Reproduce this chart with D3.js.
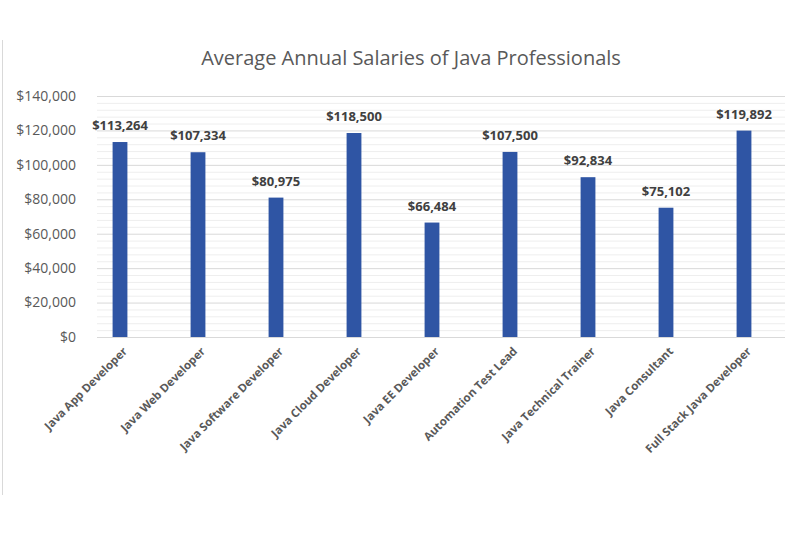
<!DOCTYPE html>
<html>
<head>
<meta charset="utf-8">
<script src="https://cdn.jsdelivr.net/npm/d3@7"></script>
<style>
  body { margin: 0; background: #fff; }
  text { font-family: "Open Sans", sans-serif; }
</style>
</head>
<body>
<div id="chart"></div>
<script>
var roles = ["Java App Developer", "Java Web Developer", "Java Software Developer", "Java Cloud Developer",
  "Java EE Developer", "Automation Test Lead", "Java Technical Trainer", "Java Consultant", "Full Stack Java Developer"];
var salaries = [113264, 107334, 80975, 118500, 66484, 107500, 92834, 75102, 119892];
var yTicks = [0, 20000, 40000, 60000, 80000, 100000, 120000, 140000];

var width = 800, height = 533;
var svg = d3.select("#chart").append("svg").attr("width", width).attr("height", height);

// chart border (left edge visible)
svg.append("line").attr("x1", 2.5).attr("x2", 2.5).attr("y1", 40).attr("y2", 495)
  .attr("stroke", "#d9d9d9");

var x = d3.scaleBand().domain(roles).range([81, 783]).paddingInner(0.81).paddingOuter(0.405);
var y = d3.scaleLinear().domain([0, 140000]).range([337, 96]);

// gridlines, minor every 4,000
svg.append("g").selectAll("line").data(d3.range(0, 140001, 4000))
  .enter().append("line")
  .attr("x1", 97).attr("x2", 785)
  .attr("y1", d => y(d) + 0.5).attr("y2", d => y(d) + 0.5)
  .attr("stroke", d => d % 20000 === 0 ? "#d9d9d9" : "#eeeeee")
  .attr("stroke-width", 1);

svg.append("text").attr("x", 411).attr("y", 65).attr("text-anchor", "middle")
  .style("font-size", "20px").attr("fill", "#595959")
  .text("Average Annual Salaries of Java Professionals");

svg.append("g").selectAll("text").data(yTicks).enter().append("text")
  .attr("x", 76).attr("y", d => y(d)).attr("dy", "0.35em").attr("text-anchor", "end")
  .style("font-size", "14px").attr("fill", "#595959")
  .text(d => "$" + d3.format(",")(d));

svg.append("g").selectAll("rect").data(salaries).enter().append("rect")
  .attr("x", (d, i) => x(roles[i])).attr("width", x.bandwidth())
  .attr("y", d => y(d)).attr("height", d => y(0) - y(d))
  .attr("fill", "#2f55a4");

svg.append("g").selectAll("text").data(salaries).enter().append("text")
  .attr("x", (d, i) => x(roles[i]) + x.bandwidth() / 2).attr("y", d => y(d) - 12)
  .attr("text-anchor", "middle").style("font-size", "13px").style("font-weight", "bold")
  .attr("fill", "#404040")
  .text(d => "$" + d3.format(",")(d));

svg.append("g").selectAll("text").data(roles).enter().append("text")
  .attr("transform", d => "translate(" + (x(d) + x.bandwidth() / 2 + 8) + ",352) rotate(-45)")
  .attr("text-anchor", "end").style("font-size", "11.5px").style("font-weight", "bold")
  .attr("fill", "#595959")
  .text(d => d);
</script>
</body>
</html>
